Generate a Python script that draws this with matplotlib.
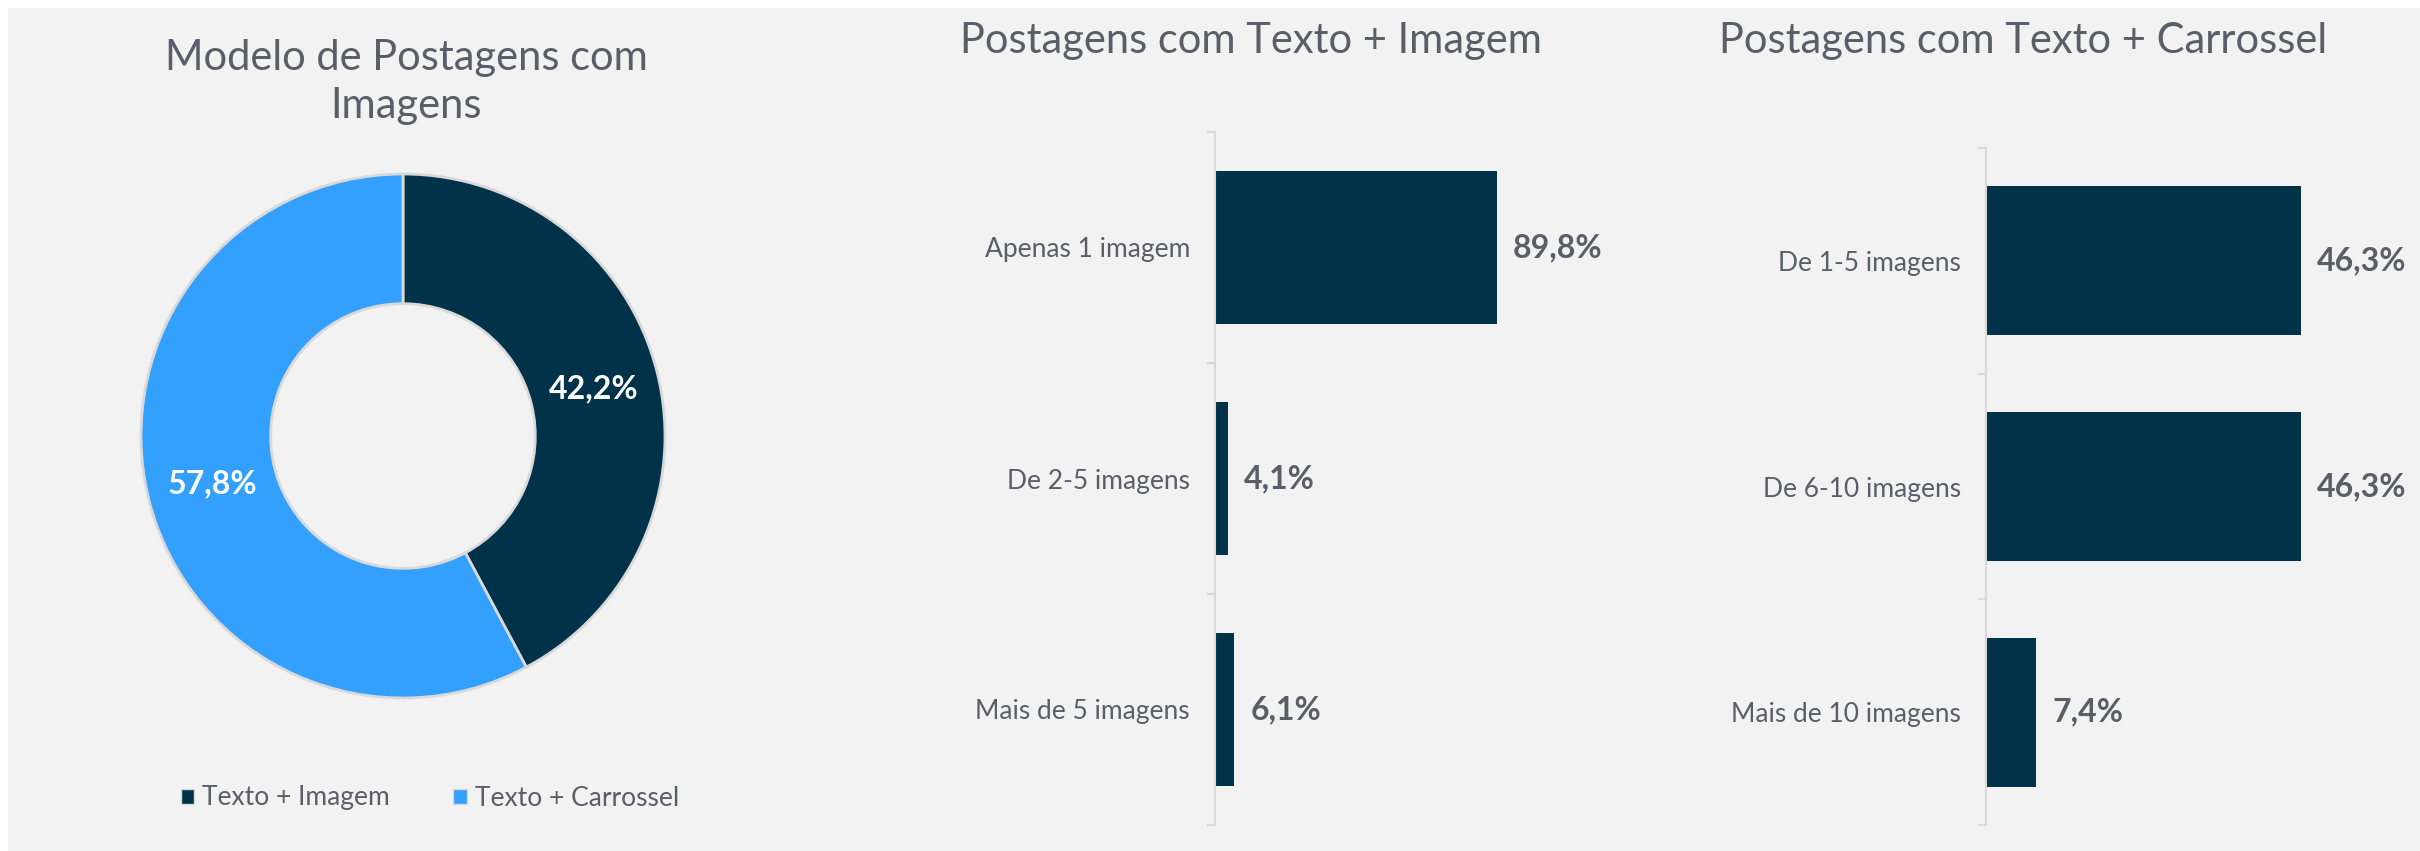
import matplotlib
matplotlib.use('Agg')
import matplotlib.pyplot as plt
from matplotlib.patches import Rectangle, Patch

plt.rcParams['font.family'] = ['Lato', 'DejaVu Sans']

# data
donut_labels = ['Texto + Imagem', 'Texto + Carrossel']
donut_values = [42.2, 57.8]

img_cats = ['Apenas 1 imagem', 'De 2-5 imagens', 'Mais de 5 imagens']
img_values = [89.8, 4.1, 6.1]

car_cats = ['De 1-5 imagens', 'De 6-10 imagens', 'Mais de 10 imagens']
car_values = [46.3, 46.3, 7.4]

W, H = 2420, 851
navy = '#00324a'
blue = '#339fff'
txt = '#5a5e69'
grid_c = '#d9d9d9'

fig = plt.figure(figsize=(W / 100, H / 100), dpi=100, facecolor='white')
fig.patches.append(Rectangle((8 / W, 0), 1 - 8 / W, (H - 8) / H, transform=fig.transFigure,
                             facecolor='#f2f2f2', edgecolor='none', zorder=-10))


def px_axes(left, top, width, height):
    return fig.add_axes([left / W, (H - top - height) / H, width / W, height / H])


# donut
cx, cy, r = 403, 436, 262
half = 300
ax1 = px_axes(cx - half, cy - half, 2 * half, 2 * half)
ax1.set_facecolor('none')
wedges, _, autotexts = ax1.pie(donut_values, colors=[navy, blue], startangle=90, counterclock=False,
                               radius=1, autopct=lambda p: f'{p:.1f}%'.replace('.', ','),
                               pctdistance=0.75,
                               wedgeprops=dict(width=0.495, edgecolor=grid_c, linewidth=2))
for t in autotexts:
    t.set_color('white')
    t.set_fontsize(23)
    t.set_fontweight('bold')
ax1.set_xlim(-half / r, half / r)
ax1.set_ylim(-half / r, half / r)
ax1.set_aspect('equal')
ax1.axis('off')

fig.text(406 / W, 1 - 82 / H, 'Modelo de Postagens com\nImagens', ha='center', va='center',
         fontsize=30, color=txt, linespacing=1.35)

handles = [Patch(facecolor=c, edgecolor=grid_c, linewidth=1) for c in [navy, blue]]
fig.legend(handles, donut_labels, loc='center', bbox_to_anchor=(430 / W, 1 - 798 / H), ncol=2,
           frameon=False, fontsize=19, labelcolor=txt, handlelength=0.5, handleheight=0.5,
           handletextpad=0.3, columnspacing=2.4)


def bar_panel(ax, cats, values, xmax):
    y = list(range(len(cats)))
    ax.barh(y, values, height=0.66, color=navy)
    ax.set_xlim(0, xmax)
    ax.set_ylim(len(cats) - 0.5, -0.5)
    ax.set_facecolor('none')
    for s in ['top', 'right', 'bottom']:
        ax.spines[s].set_visible(False)
    ax.spines['left'].set_color(grid_c)
    ax.spines['left'].set_linewidth(1.5)
    ax.set_xticks([])
    ax.set_yticks(y)
    ax.set_yticklabels(cats, fontsize=19, color=txt)
    ax.tick_params(axis='y', which='major', length=0, pad=18)
    ax.set_yticks([i - 0.5 for i in range(len(cats) + 1)], minor=True)
    ax.tick_params(axis='y', which='minor', length=6, width=1.5, color=grid_c)
    for yi, v in zip(y, values):
        ax.annotate(f'{v:.1f}%'.replace('.', ','), (v, yi), xytext=(11.5, 0), textcoords='offset points',
                    ha='left', va='center', fontsize=23, fontweight='bold', color=txt)


ax2 = px_axes(1215, 132, 314, 693)
bar_panel(ax2, img_cats, img_values, 100)
fig.text(1251 / W, 1 - 41 / H, 'Postagens com Texto + Imagem', ha='center', va='center',
         fontsize=30, color=txt)

ax3 = px_axes(1986, 148, 340, 677)
bar_panel(ax3, car_cats, car_values, 50)
fig.text(2023 / W, 1 - 41 / H, 'Postagens com Texto + Carrossel', ha='center', va='center',
         fontsize=30, color=txt)

fig.savefig('out.png', dpi=100, facecolor='white')
